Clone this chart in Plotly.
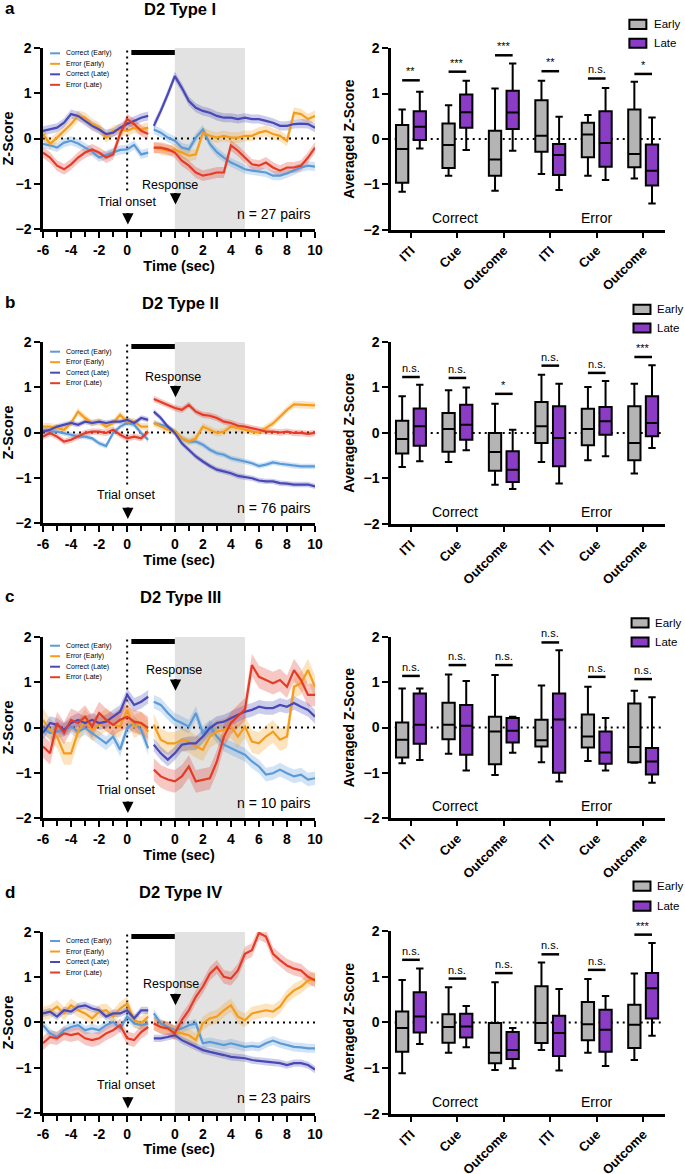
import numpy as np
import plotly.graph_objects as go

FONT = "Liberation Sans, Arial, sans-serif"

# ---------------- time bases ----------------
T_TRIAL = [-6.0, -5.5, -5.0, -4.5, -4.0, -3.5, -3.0, -2.5, -2.0, -1.5, -1.0, -0.5, 0.0, 0.5, 1.0, 1.5]
T_RESP = [-1.5, -1.0, -0.5, 0.0, 0.5, 1.0, 1.5, 2.0, 2.5, 3.0, 3.5, 4.0, 4.5, 5.0, 5.5, 6.0,
          6.5, 7.0, 7.5, 8.0, 8.5, 9.0, 9.5, 10.0]
X_TICKS_TRIAL = [-6, -4, -2, 0]
X_TICKS_RESP = [0, 2, 4, 6, 8, 10]
X_MINOR_TRIAL = [-5, -3, -1, 1]
X_MINOR_RESP = [-1, 1, 3, 5, 7, 9]

SERIES_NAMES = ["Correct (Early)", "Error (Early)", "Correct (Late)", "Error (Late)"]
SERIES_COLORS = ["#5a9ad8", "#f49d1c", "#4848b6", "#e43b26"]

PANEL_LETTERS = ["a", "b", "c", "d"]
PANEL_TITLES = ["D2 Type I", "D2 Type II", "D2 Type III", "D2 Type IV"]
N_PAIRS = [27, 76, 10, 23]

# ---------------- Type I traces ----------------
A_CE_T = [-0.12, -0.15, -0.2, -0.09, -0.05, -0.11, -0.2, -0.29, -0.42, -0.36, -0.31, -0.25, -0.24, -0.14, -0.35, -0.31]
A_EE_T = [0.1, -0.12, 0.02, 0.17, 0.32, 0.5, 0.46, 0.32, 0.24, 0.02, 0.17, 0.2, 0.17, 0.24, 0.2, 0.24]
A_CL_T = [0.17, 0.2, 0.24, 0.35, 0.54, 0.5, 0.39, 0.28, 0.2, 0.1, 0.13, 0.24, 0.32, 0.39, 0.46, 0.5]
A_EL_T = [-0.31, -0.42, -0.6, -0.68, -0.57, -0.42, -0.31, -0.24, -0.31, -0.42, -0.35, 0.1, 0.43, 0.32, 0.17, 0.1]
A_CE_R = [0.2, 0.13, 0.02, -0.05, -0.2, -0.24, 0.02, 0.2, -0.12, -0.3, -0.42, -0.53, -0.6, -0.68, -0.71, -0.73,
          -0.75, -0.82, -0.82, -0.77, -0.71, -0.64, -0.6, -0.62]
A_EE_R = [-0.2, -0.24, -0.27, -0.24, -0.31, -0.38, -0.35, 0.13, 0.06, 0.02, 0.06, 0.02, 0.02, 0.06, 0.06, 0.13,
          0.17, 0.1, 0.06, -0.05, 0.57, 0.54, 0.43, 0.5]
A_CL_R = [0.28, 0.61, 0.98, 1.38, 1.12, 0.83, 0.68, 0.61, 0.57, 0.5, 0.46, 0.46, 0.43, 0.46, 0.43, 0.43,
          0.39, 0.35, 0.28, 0.28, 0.32, 0.33, 0.32, 0.24]
A_EL_R = [-0.2, -0.2, -0.24, -0.31, -0.49, -0.6, -0.75, -0.82, -0.79, -0.75, -0.75, -0.15, -0.27, -0.42, -0.57, -0.6,
          -0.53, -0.64, -0.71, -0.64, -0.64, -0.6, -0.42, -0.2]
A_SEM = [0.1, 0.12, 0.1, 0.12]

# ---------------- Type II traces ----------------
B_CE_T = [0.06, 0.02, 0.02, -0.01, -0.05, -0.09, -0.09, -0.13, -0.24, -0.3, -0.01, 0.13, 0.21, 0.17, -0.01, -0.16]
B_EE_T = [0.13, 0.13, 0.1, 0.06, 0.21, 0.46, 0.32, 0.21, 0.24, 0.13, 0.21, 0.39, 0.24, 0.24, 0.13, 0.13]
B_CL_T = [0.02, 0.06, 0.13, 0.17, 0.21, 0.17, 0.24, 0.21, 0.24, 0.21, 0.24, 0.24, 0.28, 0.21, 0.32, 0.28]
B_EL_T = [-0.09, -0.01, -0.09, -0.2, -0.16, -0.09, -0.01, 0.02, 0.02, -0.01, 0.06, -0.05, -0.13, -0.09, -0.13, 0.02]
B_CE_R = [0.21, 0.17, 0.13, 0.02, -0.13, -0.2, -0.2, -0.27, -0.38, -0.46, -0.49, -0.57, -0.6, -0.64, -0.68, -0.74,
          -0.71, -0.66, -0.69, -0.71, -0.74, -0.75, -0.75, -0.75]
B_EE_R = [0.21, 0.13, 0.06, 0.02, -0.13, -0.2, -0.13, 0.13, 0.06, -0.01, 0.02, 0.13, 0.1, 0.06, 0.02, 0.0,
          0.1, 0.2, 0.35, 0.5, 0.62, 0.61, 0.6, 0.6]
B_CL_R = [0.46, 0.32, 0.13, -0.01, -0.24, -0.38, -0.53, -0.64, -0.74, -0.82, -0.86, -0.9, -0.96, -0.99, -1.01, -1.06,
          -1.08, -1.08, -1.12, -1.13, -1.15, -1.15, -1.15, -1.19]
B_EL_R = [0.74, 0.68, 0.61, 0.54, 0.5, 0.61, 0.46, 0.39, 0.37, 0.32, 0.24, 0.21, 0.15, 0.13, 0.1, 0.06,
          0.02, 0.02, 0.0, 0.02, -0.01, -0.01, -0.03, -0.01]
B_SEM = [0.06, 0.08, 0.06, 0.07]

# ---------------- Type III traces ----------------
C_CE_T = [-0.01, -0.12, -0.09, -0.05, 0.02, -0.09, -0.01, -0.12, -0.24, -0.35, -0.2, -0.49, -0.01, 0.1, -0.05, -0.46]
C_EE_T = [0.17, -0.05, -0.2, -0.57, -0.57, -0.09, 0.17, -0.05, 0.06, 0.17, 0.06, 0.02, 0.39, 0.02, 0.1, -0.09]
C_CL_T = [-0.12, 0.1, 0.06, -0.05, 0.1, 0.17, 0.1, 0.17, 0.1, 0.13, 0.24, 0.35, 0.72, 0.5, 0.57, 0.68]
C_EL_T = [-0.42, -0.57, 0.1, -0.12, 0.17, 0.1, 0.24, 0.02, 0.32, 0.17, 0.06, 0.17, 0.24, 0.13, 0.1, -0.01]
C_CE_R = [0.57, 0.5, 0.32, 0.17, 0.1, 0.02, 0.32, -0.12, 0.02, -0.2, -0.38, -0.46, -0.53, -0.6, -0.75, -0.86,
          -1.04, -1.01, -0.93, -1.01, -1.08, -1.04, -1.15, -1.12]
C_EE_R = [0.06, -0.27, -0.35, -0.35, -0.27, -0.31, -0.42, -0.49, -0.2, -0.09, -0.05, 0.02, -0.2, 0.02, -0.31, -0.35,
          -0.2, -0.09, -0.27, -0.2, 0.9, 0.98, 1.27, 0.9]
C_CL_R = [-0.38, -0.57, -0.71, -0.57, -0.38, -0.35, -0.35, -0.2, -0.01, 0.1, 0.13, 0.21, 0.28, 0.35, 0.39, 0.46,
          0.43, 0.43, 0.5, 0.46, 0.54, 0.46, 0.39, 0.24]
C_EL_R = [-0.93, -1.08, -1.15, -1.19, -1.08, -0.86, -1.19, -1.15, -1.12, -0.75, -0.2, 0.1, 0.24, 0.4, 1.38, 1.12,
          1.05, 0.98, 1.05, 0.9, 1.27, 1.05, 0.72, 0.72]
C_SEM = [0.15, 0.25, 0.15, 0.25]

# ---------------- Type IV traces ----------------
D_CE_T = [-0.06, -0.24, -0.32, -0.17, -0.1, -0.06, -0.17, -0.13, -0.17, -0.06, 0.01, -0.13, 0.13, -0.02, -0.06, -0.02]
D_EE_T = [0.2, 0.24, 0.35, 0.2, 0.38, 0.27, 0.2, 0.09, 0.24, 0.27, 0.13, 0.31, 0.42, 0.05, -0.02, 0.13]
D_CL_T = [0.2, 0.24, 0.13, 0.27, 0.24, 0.35, 0.38, 0.31, 0.27, 0.13, 0.2, 0.2, 0.27, 0.09, 0.27, 0.27]
D_EL_T = [-0.46, -0.32, -0.35, -0.24, -0.28, -0.24, -0.35, -0.39, -0.35, -0.24, -0.17, -0.06, -0.35, -0.39, -0.21, -0.1]
D_CE_R = [0.2, -0.02, -0.1, -0.17, -0.13, -0.06, -0.02, -0.46, -0.43, -0.46, -0.5, -0.46, -0.5, -0.54, -0.52, -0.54,
          -0.46, -0.4, -0.46, -0.5, -0.54, -0.55, -0.57, -0.57]
D_EE_R = [-0.02, -0.1, -0.13, -0.21, -0.24, -0.28, -0.39, -0.02, 0.09, 0.13, 0.27, 0.38, 0.13, 0.05, 0.2, 0.24,
          0.27, 0.24, 0.35, 0.57, 0.71, 0.79, 0.93, 0.97]
D_CL_R = [-0.35, -0.35, -0.32, -0.28, -0.39, -0.46, -0.54, -0.61, -0.65, -0.68, -0.72, -0.76, -0.78, -0.79, -0.83, -0.85,
          -0.87, -0.89, -0.9, -0.94, -0.9, -0.9, -0.94, -1.04]
D_EL_R = [-0.02, -0.1, -0.13, -0.24, 0.05, 0.27, 0.57, 0.79, 1.08, 1.23, 1.01, 0.97, 1.15, 1.52, 1.6, 1.98,
          1.9, 1.52, 1.38, 1.26, 1.19, 1.15, 1.01, 0.93]
D_SEM = [0.1, 0.15, 0.08, 0.15]

LINE_DATA = [
    [(A_CE_T, A_CE_R), (A_EE_T, A_EE_R), (A_CL_T, A_CL_R), (A_EL_T, A_EL_R)],
    [(B_CE_T, B_CE_R), (B_EE_T, B_EE_R), (B_CL_T, B_CL_R), (B_EL_T, B_EL_R)],
    [(C_CE_T, C_CE_R), (C_EE_T, C_EE_R), (C_CL_T, C_CL_R), (C_EL_T, C_EL_R)],
    [(D_CE_T, D_CE_R), (D_EE_T, D_EE_R), (D_CL_T, D_CL_R), (D_EL_T, D_EL_R)],
]
SEMS = [A_SEM, B_SEM, C_SEM, D_SEM]

# ---------------- box plot summaries ----------------
BOX_CATS = ["ITI", "Cue", "Outcome", "ITI", "Cue", "Outcome"]
GROUP_LABELS = ["Correct", "Error"]

A_EARLY_LO = [-1.16, -0.81, -1.14, -0.77, -0.81, -0.87]
A_EARLY_Q1 = [-0.96, -0.64, -0.81, -0.28, -0.4, -0.62]
A_EARLY_MED = [-0.22, -0.13, -0.45, 0.07, 0.1, -0.33]
A_EARLY_Q3 = [0.31, 0.34, 0.18, 0.85, 0.36, 0.65]
A_EARLY_HI = [0.65, 0.74, 1.11, 1.28, 0.53, 1.26]
A_LATE_LO = [-0.21, -0.24, -0.26, -1.12, -0.9, -1.42]
A_LATE_Q1 = [-0.02, 0.25, 0.22, -0.79, -0.61, -1.02]
A_LATE_MED = [0.27, 0.59, 0.58, -0.35, -0.09, -0.7]
A_LATE_Q3 = [0.61, 0.98, 1.06, -0.11, 0.61, -0.12]
A_LATE_HI = [1.04, 1.28, 1.66, 0.49, 1.12, 0.47]
A_SIG = ["**", "***", "***", "**", "n.s.", "*"]
A_SIG_Y = [1.29, 1.48, 1.84, 1.49, 1.33, 1.43]

B_EARLY_LO = [-0.75, -0.64, -1.14, -0.64, -0.6, -0.89]
B_EARLY_Q1 = [-0.45, -0.41, -0.83, -0.22, -0.27, -0.6]
B_EARLY_MED = [-0.13, 0.09, -0.42, 0.15, 0.09, -0.22]
B_EARLY_Q3 = [0.27, 0.44, 0.0, 0.68, 0.53, 0.59]
B_EARLY_HI = [0.81, 0.94, 0.64, 1.28, 1.01, 1.08]
B_LATE_LO = [-0.62, -0.38, -1.23, -1.11, -0.51, -0.33]
B_LATE_Q1 = [-0.28, -0.15, -1.08, -0.73, -0.04, -0.07]
B_LATE_MED = [0.15, 0.18, -0.81, -0.11, 0.26, 0.22]
B_LATE_Q3 = [0.54, 0.62, -0.4, 0.59, 0.57, 0.81]
B_LATE_HI = [1.06, 1.0, 0.07, 1.08, 1.14, 1.49]
B_SIG = ["n.s.", "n.s.", "*", "n.s.", "n.s.", "***"]
B_SIG_Y = [1.23, 1.21, 0.86, 1.48, 1.32, 1.67]

C_EARLY_LO = [-0.79, -0.58, -1.05, -0.77, -0.74, -0.78]
C_EARLY_Q1 = [-0.66, -0.26, -0.81, -0.42, -0.44, -0.77]
C_EARLY_MED = [-0.27, 0.06, -0.09, -0.28, -0.2, -0.43]
C_EARLY_Q3 = [0.11, 0.55, 0.24, 0.17, 0.29, 0.53]
C_EARLY_HI = [0.86, 1.17, 1.16, 0.93, 0.9, 0.81]
C_LATE_LO = [-0.72, -0.95, -0.56, -1.19, -0.95, -1.22]
C_LATE_Q1 = [-0.36, -0.6, -0.33, -1.0, -0.8, -1.04]
C_LATE_MED = [0.06, 0.04, -0.07, 0.18, -0.55, -0.75]
C_LATE_Q3 = [0.75, 0.5, 0.21, 0.75, -0.09, -0.45]
C_LATE_HI = [0.86, 1.03, 0.24, 1.71, 0.21, 0.67]
C_SIG = ["n.s.", "n.s.", "n.s.", "n.s.", "n.s.", "n.s."]
C_SIG_Y = [1.14, 1.38, 1.38, 1.88, 1.12, 1.07]

D_EARLY_LO = [-1.11, -0.66, -1.04, -0.6, -0.66, -0.82]
D_EARLY_Q1 = [-0.64, -0.44, -0.89, -0.45, -0.39, -0.56]
D_EARLY_MED = [-0.12, -0.1, -0.66, -0.01, -0.04, -0.05]
D_EARLY_Q3 = [0.24, 0.18, -0.01, 0.79, 0.45, 0.39]
D_EARLY_HI = [0.93, 0.77, 0.88, 1.31, 0.95, 1.07]
D_LATE_LO = [-0.47, -0.54, -1.0, -1.05, -0.95, -0.29]
D_LATE_Q1 = [-0.22, -0.33, -0.8, -0.73, -0.64, 0.09]
D_LATE_MED = [0.13, -0.09, -0.6, -0.23, -0.16, 0.75]
D_LATE_Q3 = [0.66, 0.19, -0.21, 0.15, 0.28, 1.08]
D_LATE_HI = [1.18, 0.36, -0.12, 0.73, 0.58, 1.74]
D_SIG = ["n.s.", "n.s.", "n.s.", "n.s.", "n.s.", "***"]
D_SIG_Y = [1.37, 0.96, 1.08, 1.49, 1.15, 1.92]

BOX_DATA = [
    dict(early=(A_EARLY_LO, A_EARLY_Q1, A_EARLY_MED, A_EARLY_Q3, A_EARLY_HI),
         late=(A_LATE_LO, A_LATE_Q1, A_LATE_MED, A_LATE_Q3, A_LATE_HI), sig=A_SIG, sig_y=A_SIG_Y),
    dict(early=(B_EARLY_LO, B_EARLY_Q1, B_EARLY_MED, B_EARLY_Q3, B_EARLY_HI),
         late=(B_LATE_LO, B_LATE_Q1, B_LATE_MED, B_LATE_Q3, B_LATE_HI), sig=B_SIG, sig_y=B_SIG_Y),
    dict(early=(C_EARLY_LO, C_EARLY_Q1, C_EARLY_MED, C_EARLY_Q3, C_EARLY_HI),
         late=(C_LATE_LO, C_LATE_Q1, C_LATE_MED, C_LATE_Q3, C_LATE_HI), sig=C_SIG, sig_y=C_SIG_Y),
    dict(early=(D_EARLY_LO, D_EARLY_Q1, D_EARLY_MED, D_EARLY_Q3, D_EARLY_HI),
         late=(D_LATE_LO, D_LATE_Q1, D_LATE_MED, D_LATE_Q3, D_LATE_HI), sig=D_SIG, sig_y=D_SIG_Y),
]
EARLY_COLOR = "#b4b4b4"
LATE_COLOR = "#8a3cc4"

# ---------------- layout constants ----------------
RESP_SHIFT = 3.4          # axis position of response-aligned time 0
BOX_OFFSET = 0.19
BOX_WIDTH = 0.265
LEFT_X = [0.0628, 0.4599]
RIGHT_X = [0.5708, 0.9708]
LEFT_Y = [[0.8049, 0.9591], [0.5545, 0.7087], [0.3032, 0.4574], [0.0520, 0.2061]]
RIGHT_Y = [[0.8041, 0.9591], [0.5537, 0.7087], [0.3032, 0.4574], [0.0511, 0.2070]]
TITLE_Y = [0.9925, 0.742, 0.4915, 0.240]
RESP_TXT = [(3.05, -1.02, -1.46), (3.26, 1.22, 0.78), (3.31, 1.27, 0.81), (3.14, 0.85, 0.38)]
TRIAL_TXT = [(0.0, -1.40, -1.9), (-0.1, -1.375, -1.91), (-0.1, -1.39, -1.89), (-0.1, -1.38, -1.9)]
LEG_TOP_PX = [5.3, 9.7, 8.7, 9.0]
BOXLEG = [(0.87, 1.130, 1.026, 0.952), (0.885, 1.179, 1.077, 0.962),
          (0.878, 1.078, 0.972, 0.958), (0.885, 1.245, 1.136, 0.962)]
N_POS = [(3.9, 2.18), (3.85, 2.2), (3.99, 2.22), (3.96, 2.25)]


def rgba(hexcol, a):
    h = hexcol.lstrip('#')
    r, g, b = int(h[0:2], 16), int(h[2:4], 16), int(h[4:6], 16)
    return f"rgba({r},{g},{b},{a})"


def sfx(n):
    return '' if n == 1 else str(n)


fig = go.Figure()
shapes = []
annotations = []
layout = dict(width=685, height=1174, margin=dict(l=0, r=0, t=0, b=0),
              paper_bgcolor='white', plot_bgcolor='rgba(0,0,0,0)', showlegend=False,
              font=dict(family=FONT, color='black'), boxmode='overlay')

tickfont = dict(family=FONT, size=14, color='black', weight='bold')
titlefont = dict(family=FONT, size=14.5, color='black', weight='bold')
axis_common = dict(showline=True, linecolor='black', linewidth=2.5, ticks='outside', tickcolor='black',
                   tickwidth=2, ticklen=6, showgrid=False, zeroline=False, tickfont=tickfont,
                   automargin=False, fixedrange=True)

for i in range(4):
    L, R = 2 * i + 1, 2 * i + 2
    xl, yl = 'x' + sfx(L), 'y' + sfx(L)
    xr, yr = 'x' + sfx(R), 'y' + sfx(R)

    # ---------- left: traces ----------
    tx_trial = np.array(T_TRIAL, dtype=float)
    tx_resp = np.array(T_RESP, dtype=float) + RESP_SHIFT
    for s in range(4):
        col = SERIES_COLORS[s]
        sem = SEMS[i][s]
        for tx, vals in ((tx_trial, LINE_DATA[i][s][0]), (tx_resp, LINE_DATA[i][s][1])):
            v = np.array(vals, dtype=float)
            fig.add_trace(go.Scatter(
                x=np.concatenate([tx, tx[::-1]]), y=np.concatenate([v + sem, (v - sem)[::-1]]),
                fill='toself', fillcolor=rgba(col, 0.28), line=dict(width=0), mode='lines',
                xaxis=xl, yaxis=yl, hoverinfo='skip', showlegend=False))
    for s in range(4):
        col = SERIES_COLORS[s]
        for tx, vals in ((tx_trial, LINE_DATA[i][s][0]), (tx_resp, LINE_DATA[i][s][1])):
            fig.add_trace(go.Scatter(x=tx, y=vals, mode='lines', line=dict(color=col, width=2.2),
                                     xaxis=xl, yaxis=yl, name=SERIES_NAMES[s], showlegend=False))

    # ---------- right: boxes ----------
    bd = BOX_DATA[i]
    pos = np.arange(len(BOX_CATS), dtype=float)
    for key, off, fc in (('early', -BOX_OFFSET, EARLY_COLOR), ('late', BOX_OFFSET, LATE_COLOR)):
        lo, q1, med, q3, hi = bd[key]
        fig.add_trace(go.Box(x=pos + off, q1=q1, median=med, q3=q3, lowerfence=lo, upperfence=hi,
                             width=BOX_WIDTH, fillcolor=fc, line=dict(color='black', width=2),
                             whiskerwidth=0.6, boxpoints=False, xaxis=xr, yaxis=yr,
                             name=key.capitalize(), showlegend=False))

    # ---------- axes ----------
    layout['xaxis' + sfx(L)] = dict(axis_common, domain=LEFT_X, anchor=yl, range=[-6, 13.4],
                                    tickmode='array',
                                    tickvals=X_TICKS_TRIAL + [t + RESP_SHIFT for t in X_TICKS_RESP],
                                    ticktext=[str(t) for t in X_TICKS_TRIAL + X_TICKS_RESP],
                                    minor=dict(tickmode='array',
                                               tickvals=X_MINOR_TRIAL + [t + RESP_SHIFT for t in X_MINOR_RESP],
                                               ticks='outside', ticklen=5, tickwidth=2, tickcolor='black'),
                                    title=dict(text='Time (sec)', font=titlefont, standoff=3))
    layout['yaxis' + sfx(L)] = dict(axis_common, domain=LEFT_Y[i], anchor=xl, range=[-2, 2],
                                    tickmode='array', tickvals=[-2, -1, 0, 1, 2],
                                    title=dict(text='Z-Score', font=titlefont, standoff=6))
    layout['xaxis' + sfx(R)] = dict(axis_common, domain=RIGHT_X, anchor=yr, range=[-0.43, 5.47],
                                    tickmode='array', tickvals=list(pos), ticktext=BOX_CATS,
                                    tickangle=-45, ticklen=5, tickfont=dict(tickfont, size=13))
    layout['yaxis' + sfx(R)] = dict(axis_common, domain=RIGHT_Y[i], anchor=xr, range=[-2, 2],
                                    tickmode='array', tickvals=[-2, -1, 0, 1, 2],
                                    title=dict(text='Averaged Z-Score', font=dict(titlefont, size=14), standoff=6))

    # ---------- left shapes ----------
    shapes.append(dict(type='rect', xref=xl, yref=yl, x0=RESP_SHIFT, x1=RESP_SHIFT + 5, y0=-2, y1=2,
                       fillcolor='#e2e2e2', line=dict(width=0), layer='below'))
    shapes.append(dict(type='line', xref=xl, yref=yl, x0=-6, x1=13.4, y0=0, y1=0,
                       line=dict(color='black', width=2, dash='2px,4px'), layer='below'))
    shapes.append(dict(type='line', xref=xl, yref=yl, x0=0, x1=0, y0=-1.15, y1=2,
                       line=dict(color='black', width=2, dash='2px,4px'), layer='below'))
    shapes.append(dict(type='line', xref=xl, yref=yl, x0=0.3, x1=RESP_SHIFT, y0=1.9, y1=1.9,
                       line=dict(color='black', width=5)))

    # legend for traces
    top = LEG_TOP_PX[i]
    for s in range(4):
        yy = 1 - (top + 10.5 * s) / 181.0
        shapes.append(dict(type='line', xref=xl + ' domain', yref=yl + ' domain', x0=0.026, x1=0.0625,
                           y0=yy, y1=yy, line=dict(color=SERIES_COLORS[s], width=2)))
        annotations.append(dict(text=SERIES_NAMES[s], xref=xl + ' domain', yref=yl + ' domain', x=0.078, y=yy,
                                xanchor='left', yanchor='middle', showarrow=False,
                                font=dict(family=FONT, size=7, color='black')))

    # headers
    for txt, xx in (("ITI", -3.15), ("Cue", 1.8), ("Outcome", 5.85)):
        annotations.append(dict(text=txt, xref=xl, yref=yl, x=xx, y=2.23, showarrow=False,
                                font=dict(family=FONT, size=12.5, color='black', weight='bold')))
    rx, ry, rtip = RESP_TXT[i]
    annotations.append(dict(text='Response', xref=xl, yref=yl, x=rx, y=ry, showarrow=False,
                            font=dict(family=FONT, size=12.5, color='black')))
    annotations.append(dict(text='', xref=xl, yref=yl, x=RESP_SHIFT + 0.05, y=rtip, ax=0, ay=-13,
                            showarrow=True, arrowhead=2, arrowsize=0.9, arrowwidth=2.5, arrowcolor='black'))
    tx_, ty_, ttip = TRIAL_TXT[i]
    annotations.append(dict(text='Trial onset', xref=xl, yref=yl, x=tx_, y=ty_, showarrow=False,
                            font=dict(family=FONT, size=12.5, color='black')))
    annotations.append(dict(text='', xref=xl, yref=yl, x=0.05, y=ttip, ax=0, ay=-13,
                            showarrow=True, arrowhead=2, arrowsize=0.9, arrowwidth=2.5, arrowcolor='black'))
    annotations.append(dict(text=f'n = {N_PAIRS[i]} pairs', xref=xl, yref=yl, x=10.5, y=-1.67, showarrow=False,
                            font=dict(family=FONT, size=14, color='black')))

    # titles
    annotations.append(dict(text=PANEL_TITLES[i], xref='paper', yref='paper', x=0.263, y=TITLE_Y[i],
                            xanchor='center', yanchor='middle', showarrow=False,
                            font=dict(family=FONT, size=16.5, color='black', weight='bold')))
    annotations.append(dict(text=PANEL_LETTERS[i], xref='paper', yref='paper', x=0.004, y=TITLE_Y[i],
                            xanchor='left', yanchor='middle', showarrow=False,
                            font=dict(family=FONT, size=17, color='black', weight='bold')))

    # ---------- right shapes / annotations ----------
    shapes.append(dict(type='line', xref=xr, yref=yr, x0=-0.35, x1=5.4, y0=0, y1=0,
                       line=dict(color='black', width=2, dash='2px,4px'), layer='below'))
    for k in range(len(BOX_CATS)):
        sy = bd['sig_y'][k]
        shapes.append(dict(type='line', xref=xr, yref=yr, x0=k - BOX_OFFSET, x1=k + BOX_OFFSET, y0=sy, y1=sy,
                           line=dict(color='black', width=2.5)))
        annotations.append(dict(text=bd['sig'][k], xref=xr, yref=yr, x=k, y=sy, yanchor='bottom', yshift=1,
                                showarrow=False, font=dict(family=FONT, size=11, color='black')))
    for txt, xx in zip(GROUP_LABELS, (0.95, 4.0)):
        annotations.append(dict(text=txt, xref=xr, yref=yr, x=xx, y=-1.74, showarrow=False,
                                font=dict(family=FONT, size=14, color='black')))
    nx, ny = N_POS[i]
    annotations.append(dict(text=f'n = {N_PAIRS[i]}', xref=xr, yref=yr, x=nx, y=ny, showarrow=False,
                            font=dict(family=FONT, size=14, color='black')))
    bx, by_e, by_l, btx = BOXLEG[i]
    for lab, yy, fc in (("Early", by_e, EARLY_COLOR), ("Late", by_l, LATE_COLOR)):
        shapes.append(dict(type='rect', xref=xr + ' domain', yref=yr + ' domain', x0=bx, x1=bx + 0.062,
                           y0=yy - 0.025, y1=yy + 0.025, fillcolor=fc, line=dict(color='black', width=2)))
        annotations.append(dict(text=lab, xref=xr + ' domain', yref=yr + ' domain', x=btx, y=yy,
                                xanchor='left', yanchor='middle', showarrow=False,
                                font=dict(family=FONT, size=11.5, color='black')))

layout['shapes'] = shapes
layout['annotations'] = annotations
fig.update_layout(**layout)
fig.write_html("out.html", config={'displayModeBar': False},
               post_script="document.body.style.margin='0';document.body.style.overflow='hidden';")
